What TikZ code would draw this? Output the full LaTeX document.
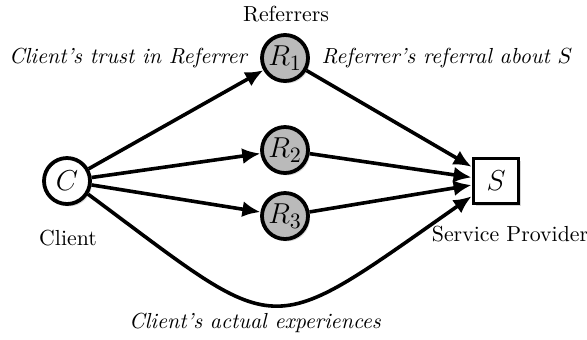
\documentclass[tikz,border=0pt]{standalone}
\usetikzlibrary{arrows.meta,shadows}
\begin{document}
\begin{tikzpicture}[x=0.5pt,y=-0.5pt,
  every node/.style={font=\fontsize{10.9}{13}\selectfont},
  agent/.style={circle,draw,line width=1.9pt,minimum size=23pt,inner sep=0pt,
    drop shadow={shadow xshift=1pt,shadow yshift=-1.2pt,opacity=0.3},font=\fontsize{15}{17}\selectfont},
  client/.style={agent,fill=white},
  referrer/.style={agent,fill=black!27},
  provider/.style={rectangle,draw,fill=white,line width=1.9pt,minimum size=22.5pt,inner sep=0pt,
    drop shadow={shadow xshift=1pt,shadow yshift=-1.2pt,opacity=0.3},font=\fontsize{15}{17}\selectfont},
  link/.style={line width=1.8pt,-{Latex[length=9pt,width=8pt]}},
  lbl/.style={font=\fontsize{10.9}{13}\selectfont\itshape}]
\useasboundingbox (0,0) rectangle (587,339);
\node[client] (C) at (67,181) {$C$};
\node[referrer] (R1) at (285,58) {$R_1$};
\node[referrer] (R2) at (285,150) {$R_2$};
\node[referrer] (R3) at (285,216) {$R_3$};
\node[provider] (S) at (496,181) {$S$};
\node (tref) at (286,14) {Referrers};
\node (tcl) at (68,238) {Client};
\node (tsp) at (510,234) {Service Provider};
\node[lbl] (ttrust) at (128,58) {Client's trust in Referrer};
\node[lbl] (treferral) at (447,58) {Referrer's referral about $S$};
\node[lbl] (texp) at (255,323) {Client's actual experiences};
\draw[link] (C) -- (R1);
\draw[link] (C) -- (R2);
\draw[link] (C) -- (R3);
\draw[link] (R1) -- (S);
\draw[link] (R2) -- (S);
\draw[link] (R3) -- (S);
\draw[link] (C.-32) .. controls (285,340) and (262,343) .. (S.-148);
\end{tikzpicture}
\end{document}
